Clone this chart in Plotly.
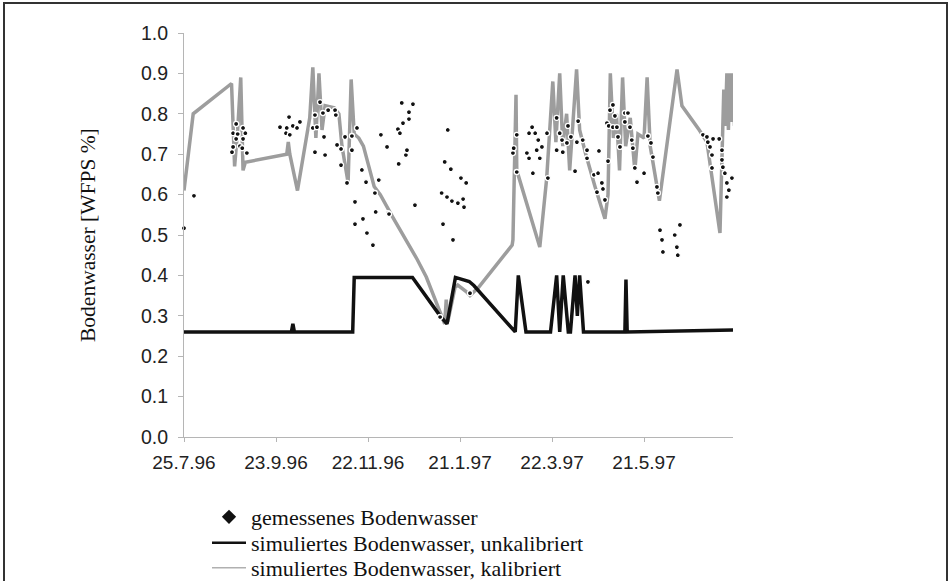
import pandas as pd
import plotly.graph_objects as go

# Zeitachse: Tage seit Messbeginn
start = pd.Timestamp("1996-07-25")

# gemessenes Bodenwasser (Tag, WFPS)
mess_tag = [0, 6.5,
            31.3, 32, 32, 34, 34, 35, 36.5, 38, 38.5, 38.5, 40, 41,
            62.6, 66.5, 67, 68.5, 69, 71, 73.7, 75.6,
            84, 85.4, 85.4, 86.7, 88.7, 90.6, 91.3, 92, 94, 98.5, 99, 99.8,
            102.4, 102.4, 105, 106.3, 109.5, 109.5, 111.5, 111.5, 112.8, 116,
            116.7, 118.7, 119.3, 123.2, 124.5, 125, 127, 128.4, 132.4, 133,
            133.7,
            139.5, 140, 140.8, 142, 142.8, 144.7, 145.4, 146.7, 146.7, 149.3, 150.6,
            167, 168, 168.9, 170, 171.5, 172, 174, 174.7, 175.4, 178.6, 180.6,
            182, 182.6, 184, 186.5,
            214.5, 215, 217, 217, 223.6, 225, 225, 227, 227.5, 229, 230, 231,
            232, 233.4, 236.7, 237.3, 243, 243, 245, 246.5, 247, 249.7, 250.4,
            252.3, 255, 256.2, 257, 260, 262.8, 262.8, 263.4, 267.3, 269.3, 270,
            270.6, 272.5, 273.2, 274.5,
            275.8, 276.5, 277, 277.8, 279.7, 279.7, 281, 282.3, 283, 284.3,
            287.5, 287.5, 289.5, 290.8, 292, 292.7, 294, 295.4, 300, 302.5,
            304.5, 305.8, 308.4, 309,
            310.4, 311.7, 312.3, 320, 321.4, 322, 323.4,
            338.4, 341, 341.6, 343, 344.3, 344.3, 345, 349, 350.8, 350.8, 351.4,
            352.7, 354, 354, 355.3, 357.3]
mess_wert = [0.517, 0.597,
             0.705, 0.752, 0.718, 0.775, 0.738, 0.75, 0.72, 0.715, 0.765, 0.738, 0.752, 0.703,
             0.767, 0.752, 0.765, 0.792, 0.748, 0.77, 0.765, 0.78,
             0.765, 0.797, 0.705, 0.767, 0.829, 0.802, 0.743, 0.698, 0.809, 0.809, 0.797, 0.723,
             0.713, 0.673, 0.743, 0.629, 0.745, 0.71, 0.582, 0.527, 0.765, 0.661,
             0.54, 0.631, 0.505, 0.475, 0.604, 0.557, 0.636, 0.748, 0.718, 0.554,
             0.552,
             0.762, 0.676, 0.752, 0.827, 0.777, 0.698, 0.71, 0.804, 0.787, 0.824, 0.574,
             0.297, 0.604, 0.527, 0.681, 0.594, 0.76, 0.663, 0.584, 0.488, 0.579, 0.641,
             0.589, 0.569, 0.629, 0.356,
             0.703, 0.715, 0.748, 0.656, 0.703, 0.752, 0.69, 0.767, 0.653, 0.752, 0.71, 0.735,
             0.69, 0.718, 0.752, 0.641, 0.79, 0.71, 0.752, 0.735, 0.705, 0.728, 0.77,
             0.743, 0.658, 0.73, 0.782, 0.735, 0.71, 0.69, 0.384, 0.649, 0.606, 0.653,
             0.708, 0.629, 0.614, 0.587,
             0.777, 0.683, 0.77, 0.809, 0.822, 0.767, 0.795, 0.767, 0.743, 0.718,
             0.802, 0.78, 0.802, 0.767, 0.735, 0.715, 0.666, 0.631, 0.653, 0.745,
             0.728, 0.693, 0.619, 0.604,
             0.512, 0.488, 0.458, 0.5, 0.47, 0.45, 0.525,
             0.748, 0.743, 0.73, 0.718, 0.698, 0.666, 0.738, 0.738, 0.71, 0.686, 0.668,
             0.653, 0.629, 0.594, 0.611, 0.641]

# simuliertes Bodenwasser, unkalibriert
unkal_tag = [0, 70, 71, 72, 110, 111, 149, 167, 171.5, 177, 186, 189,
             216, 218, 223, 239, 243, 245, 247.3, 250.6, 252, 255, 256.5, 258,
             260.5, 287.5, 288.2, 289, 360.5]
unkal_wert = [0.26, 0.26, 0.28, 0.26, 0.26, 0.395, 0.395, 0.30, 0.28, 0.395, 0.385, 0.375,
              0.26, 0.40, 0.26, 0.26, 0.40, 0.26, 0.40, 0.26, 0.26, 0.40, 0.30, 0.40,
              0.26, 0.26, 0.39, 0.26, 0.265]

# simuliertes Bodenwasser, kalibriert
kal_tag = [0, 6, 31, 33, 35, 37, 38.5, 40, 67, 68, 69, 74,
           82, 84, 86, 88, 90, 92, 98, 101, 103, 107, 109, 111, 114, 117,
           124, 128, 136, 152, 158, 167, 170, 171, 172, 176.7, 178.5, 184, 186.5,
           192, 201, 214, 214.5, 216.5, 217, 232, 236.5, 240.5, 242.5, 245, 247,
           249.5, 251.5, 256, 258, 262, 268, 274.5, 276.5, 278, 280, 282, 284,
           286, 288, 291, 294, 296, 300, 302, 304, 310, 321.5, 324.7, 336, 341,
           349.5, 352, 353, 354, 355, 356, 357, 358, 359]
kal_wert = [0.61, 0.80, 0.875, 0.67, 0.76, 0.89, 0.66, 0.68, 0.70, 0.73, 0.70, 0.61,
            0.79, 0.915, 0.74, 0.90, 0.76, 0.82, 0.815, 0.80, 0.72, 0.63, 0.885, 0.75, 0.74, 0.72,
            0.62, 0.60, 0.545, 0.44, 0.396, 0.307, 0.28, 0.34, 0.285, 0.37, 0.376, 0.36, 0.35,
            0.37, 0.413, 0.475, 0.488, 0.847, 0.66, 0.47, 0.64, 0.88, 0.73, 0.90, 0.72,
            0.80, 0.66, 0.91, 0.76, 0.70, 0.62, 0.54, 0.60, 0.90, 0.74, 0.80, 0.66,
            0.89, 0.72, 0.79, 0.66, 0.75, 0.74, 0.89, 0.72, 0.585, 0.91, 0.82, 0.76, 0.73,
            0.505, 0.86, 0.77, 0.90, 0.76, 0.90, 0.78, 0.90, 0.77]

# Achsenbeschriftung
tick_tag = [0, 60, 120, 180, 240, 300]
tick_text = ["25.7.96", "23.9.96", "22.11.96", "21.1.97", "22.3.97", "21.5.97"]
y_ticks = [0.0, 0.1, 0.2, 0.3, 0.4, 0.5, 0.6, 0.7, 0.8, 0.9, 1.0]


def to_date(days):
    return [start + pd.Timedelta(days=float(d)) for d in days]


SERIF = "Liberation Serif, Times New Roman, serif"
SANS = "Liberation Sans, Arial, sans-serif"

fig = go.Figure()

fig.add_trace(go.Scatter(
    x=to_date(kal_tag), y=kal_wert, mode="lines",
    line=dict(color="#9d9d9d", width=3.5),
    name="simuliertes Bodenwasser, kalibriert", showlegend=False))

fig.add_trace(go.Scatter(
    x=to_date(unkal_tag), y=unkal_wert, mode="lines",
    line=dict(color="#111111", width=3.5),
    name="simuliertes Bodenwasser, unkalibriert", showlegend=False))

fig.add_trace(go.Scatter(
    x=to_date(mess_tag), y=mess_wert, mode="markers",
    marker=dict(symbol="circle", size=5, color="#111111",
                line=dict(color="white", width=1.3)),
    cliponaxis=False, name="gemessenes Bodenwasser", showlegend=False))

# Legendeneinträge (je eine Legende pro Zeile)
fig.add_trace(go.Scatter(
    x=[None], y=[None], mode="markers",
    marker=dict(symbol="diamond", size=11, color="#111111"),
    name="gemessenes Bodenwasser", legend="legend"))
fig.add_trace(go.Scatter(
    x=[None], y=[None], mode="lines",
    line=dict(color="#111111", width=2.5),
    name="simuliertes Bodenwasser, unkalibriert", legend="legend2"))
fig.add_trace(go.Scatter(
    x=[None], y=[None], mode="lines",
    line=dict(color="#b0b0b0", width=1.5),
    name="simuliertes Bodenwasser, kalibriert", legend="legend3"))

W, H = 951, 581
L, R, T, B = 184, 733, 33, 437
pw, ph = R - L, B - T


def px(x):
    return (x - L) / pw


def py(y):
    return (B - y) / ph


def legend_row(yc):
    return dict(x=px(207), y=py(yc), xanchor="left", yanchor="middle",
                font=dict(family=SERIF, size=22, color="#111111"),
                bgcolor="rgba(0,0,0,0)", borderwidth=0, itemwidth=34,
                itemclick=False, itemdoubleclick=False)


fig.update_layout(
    width=W, height=H,
    margin=dict(l=L, r=W - R, t=T, b=H - B, autoexpand=False),
    paper_bgcolor="white", plot_bgcolor="white",
    showlegend=True,
    legend=legend_row(517),
    legend2=legend_row(543),
    legend3=legend_row(568),
    xaxis=dict(
        type="date",
        range=to_date([0, 358]),
        tickvals=to_date(tick_tag), ticktext=tick_text,
        ticks="outside", ticklen=4, tickcolor="#b5b5b5",
        ticklabelstandoff=4,
        showline=True, linecolor="#b5b5b5", linewidth=1,
        showgrid=False, zeroline=False,
        tickfont=dict(family=SANS, size=19, color="#222222"),
    ),
    yaxis=dict(
        range=[0, 1.0], tickvals=y_ticks, tickformat=".1f",
        ticks="outside", ticklen=5, tickcolor="#b5b5b5",
        ticklabelstandoff=6,
        showline=True, linecolor="#b5b5b5", linewidth=1,
        showgrid=False, zeroline=False,
        tickfont=dict(family=SANS, size=19.5, color="#222222"),
    ),
    annotations=[dict(
        text="Bodenwasser [WFPS %]", xref="paper", yref="paper",
        x=px(88), y=0.5, xanchor="center", yanchor="middle",
        textangle=-90, showarrow=False,
        font=dict(family=SERIF, size=21.5, color="#111111"))],
    shapes=[dict(type="rect", xref="paper", yref="paper",
                 x0=px(4), x1=px(947), y0=py(590), y1=py(3),
                 line=dict(color="#333333", width=2), layer="below")],
)

fig.write_html("out.html")
